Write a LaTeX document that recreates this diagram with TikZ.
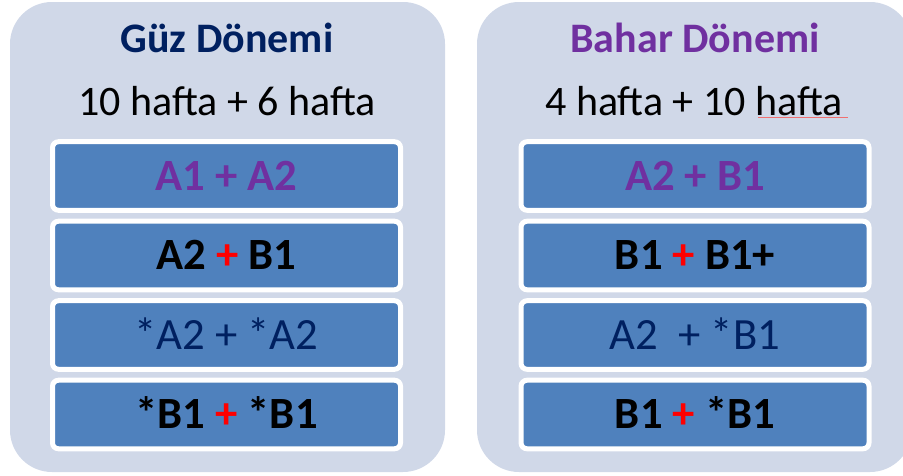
\documentclass[tikz,border=0pt]{standalone}
\usepackage{fontspec}
\setmainfont{Carlito}
\definecolor{panelgray}{HTML}{D0D8E8}
\definecolor{barblue}{HTML}{4F81BD}
\definecolor{navy}{HTML}{002060}
\definecolor{purp}{HTML}{7030A0}
\definecolor{squiggle}{HTML}{F07070}
\begin{document}
\begin{tikzpicture}[x=0.75pt,y=-0.75pt] % two semesters
\tikzstyle{every node}+=[inner sep=0pt]
\tikzstyle{panel}=[fill=panelgray,rounded corners=31.5pt,minimum width=326.25pt,minimum height=352.5pt]
\tikzstyle{bar}=[fill=barblue,draw=white,line width=3.75pt,rounded corners=4.5pt,minimum width=261pt,minimum height=51.4pt,text height=21.2pt,text depth=0pt,font=\fontsize{33.5}{40}\selectfont]
\tikzstyle{head}=[anchor=base,font=\fontsize{31.5}{38}\selectfont]
\useasboundingbox (0,0) rectangle (903,475);
\node [panel] (guz) at (227.5,237) {};
\node [panel] (bahar) at (694.5,237) {};
\node [head,text=navy] (guzt) at (227,52) {\textbf{Güz Dönemi}};
\node [head] (guzs) at (227,115) {10 hafta + 6 hafta};
\node [head,text=purp] (bahart) at (695,52) {\textbf{Bahar Dönemi}};
\node [head] (bahars) at (694,115) {4 hafta + 10 hafta};
\draw [squiggle,line width=0.9pt] (758,117.5) -- (848,117.5);
\node [bar,text=purp] (g1) at (226.5,176) {\textbf{A1 + A2}};
\node [bar] (g2) at (226.5,255.5) {\textbf{A2 {\color{red}+} B1}};
\node [bar,text=navy] (g3) at (226.5,335) {*A2 + *A2};
\node [bar] (g4) at (226.5,414.5) {\textbf{*B1 {\color{red}+} *B1}};
\node [bar,text=purp] (b1) at (695,176) {\textbf{A2 + B1}};
\node [bar] (b2) at (695,255.5) {\textbf{B1 {\color{red}+} B1+}};
\node [bar,text=navy] (b3) at (695,335) {A2\ \ + *B1};
\node [bar] (b4) at (695,414.5) {\textbf{B1 {\color{red}+} *B1}};
\end{tikzpicture}
\end{document}
